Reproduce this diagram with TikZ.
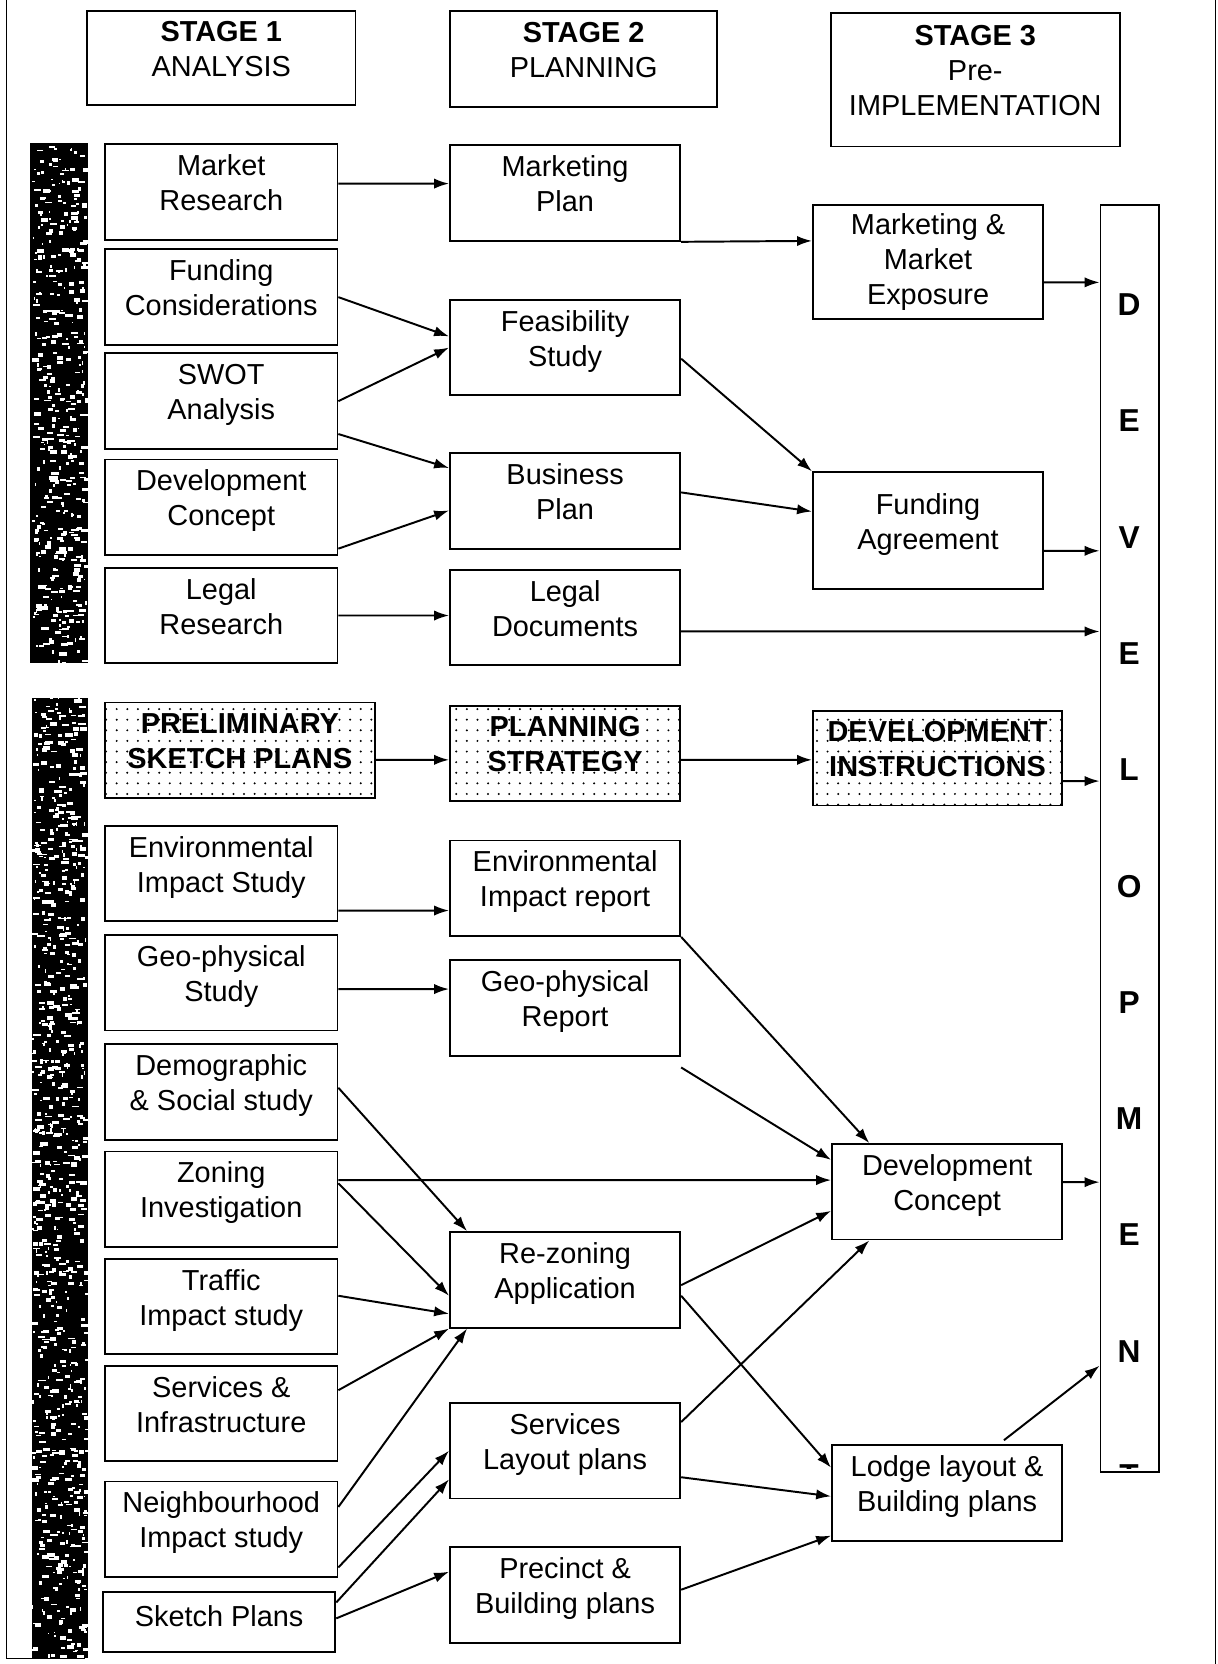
\documentclass[tikz,border=0pt]{standalone}
\usepackage{fontspec}
\setmainfont{Liberation Sans}
\usetikzlibrary{patterns.meta, arrows.meta}

\tikzset{
  box/.style={draw, line width=1pt, align=center, inner sep=2pt, minimum height=1.8cm, text depth=10pt},
  colA/.style={box, minimum width=4.38cm},
  colB/.style={box, minimum width=4.34cm},
  dotbox/.style={box, pattern={Dots[distance=0.2cm, radius=0.6pt]},
    font=\fontsize{15.5}{18.8}\selectfont\bfseries},
  devletter/.style={font=\fontsize{17}{20}\selectfont\bfseries, inner sep=0pt},
  arr/.style={-{Latex[length=8pt, width=5.5pt]}, line width=1.05pt},
}

\begin{document}
\begin{tikzpicture}[x=0.02cm, y=-0.02cm, font=\fontsize{15.5}{18.8}\selectfont]
				\useasboundingbox (0,0) rectangle (1147,1568);
				% Cadre
				\draw[line width=0.8pt] (6,0) -- (6,1563) -- (80,1563);
				\draw[line width=0.6pt] (1145,0) -- (1145,1568);

				% Bandes sombres
				\fill (28,135) rectangle (83,625);
				\fill (30,658) rectangle (83,1562);
				\pgfmathsetseed{11}
				\foreach \k in {1,...,1300}{
					\pgfmathsetmacro\sx{30+50*rnd}
					\pgfmathsetmacro\sy{137+1423*rnd}
					\fill[white] (\sx,\sy) rectangle ++({1+6*rnd},{1+3*rnd});
				}

				% Etapes
				\node[box, minimum width=5.06cm, minimum height=1.78cm] (s1) at (208.5,54.5) {\textbf{STAGE 1}\\ANALYSIS};
				\node[box, minimum width=5.04cm, minimum height=1.82cm] (s2) at (550,55.5) {\textbf{STAGE 2}\\PLANNING};
				\node[box, minimum width=5.44cm, minimum height=2.52cm] (s3) at (919,75) {\textbf{STAGE 3}\\Pre-\\IMPLEMENTATION};

				% Stage 1
				\node[colA] (mr) at (208.5,181) {Market\\Research};
				\node[colA] (fc) at (208.5,280) {Funding\\Considerations};
				\node[colA] (swot) at (208.5,378) {SWOT\\Analysis};
				\node[colA] (dc) at (208.5,478) {Development\\Concept};
				\node[colA] (lr) at (208.5,580) {Legal\\Research};
				\node[dotbox, minimum width=5.08cm] (psp) at (226,707) {PRELIMINARY\\SKETCH PLANS};
				\node[colA] (eis) at (208.5,823) {Environmental\\Impact Study};
				\node[colA] (gs) at (208.5,926) {Geo-physical\\Study};
				\node[colA] (ds) at (208.5,1029) {Demographic\\\& Social study};
				\node[colA] (zi) at (208.5,1130) {Zoning\\Investigation};
				\node[colA] (ti) at (208.5,1231) {Traffic\\Impact study};
				\node[colA] (si) at (208.5,1332) {Services \&\\Infrastructure};
				\node[colA] (ni) at (208.5,1441) {Neighbourhood\\Impact study};
				\node[colA, minimum height=1.14cm, text depth=7pt] (sp) at (206.5,1528.5) {Sketch Plans};

				% Stage 2
				\node[colB] (mp) at (532.5,182) {Marketing\\Plan};
				\node[colB] (fs) at (532.5,327.5) {Feasibility\\Study};
				\node[colB] (bp) at (532.5,472) {Business\\Plan};
				\node[colB] (ld) at (532.5,582) {Legal\\Documents};
				\node[dotbox, minimum width=4.34cm] (ps) at (532.5,710) {PLANNING\\STRATEGY};
				\node[colB] (eir) at (532.5,837) {Environmental\\Impact report};
				\node[colB] (gr) at (532.5,950) {Geo-physical\\Report};
				\node[colB] (rz) at (532.5,1206) {Re-zoning\\Application};
				\node[colB] (sl) at (532.5,1367) {Services\\Layout plans};
				\node[colB] (pb) at (532.5,1503) {Precinct \&\\Building plans};

				% Stage 3
				\node[colB, minimum height=2.16cm, text depth=] (mme) at (874.5,247) {Marketing \&\\Market\\Exposure};
				\node[colB, minimum height=2.2cm] (fa) at (874.5,500) {Funding\\Agreement};
				\node[dotbox, minimum width=4.7cm, minimum height=1.78cm] (di) at (883.5,714.5) {DEVELOPMENT\\INSTRUCTIONS};
				\node[colB] (dcon) at (892.5,1123) {Development\\Concept};
				\node[colB] (lodge) at (892.5,1407) {Lodge layout \&\\Building plans};

				% Development
				\node[draw, line width=1pt, minimum width=1.1cm, minimum height=23.88cm] (dev) at (1064.5,790) {};
				\foreach \l [count=\i] in {D,E,V,E,L,O,P,M,E,N}
				\node[devletter] (dl\i) at (1064,{287+(\i-1)*109.6}) {\l};
				\begin{scope}
					\clip (dev.north west) rectangle ([yshift=0.08cm]dev.south east);
					\node[devletter] (dl11) at (1064,1390) {T};
				\end{scope}

				% Fleches
				\draw[arr] ([yshift=0.16cm]mr.east) -- ([yshift=0.18cm]mp.west);
				\draw[arr] (mp.south east) -- ([yshift=0.4cm]mme.west);
				\draw[arr] ([yshift=-0.38cm]mme.east) -- ([yshift=10.48cm]dev.west);
				\draw[arr] (fc.east) -- ([yshift=0.21cm]fs.west);
				\draw[arr] (swot.east) -- (fs.west);
				\draw[arr] ([yshift=-0.62cm]swot.east) -- ([yshift=0.62cm]bp.west);
				\draw[arr] ([yshift=-0.78cm]dc.east) -- ([yshift=-0.18cm]bp.west);
				\draw[arr] ([yshift=-0.21cm]fs.east) -- (fa.north west);
				\draw[arr] ([yshift=0.16cm]bp.east) -- ([yshift=0.36cm]fa.west);
				\draw[arr] ([yshift=-0.38cm]fa.east) -- ([yshift=5.42cm]dev.west);
				\draw[arr] (lr.east) -- ([yshift=0.04cm]ld.west);
				\draw[arr] ([yshift=-0.26cm]ld.east) -- ([yshift=3.9cm]dev.west);
				\draw[arr] ([yshift=-0.18cm]psp.east) -- ([yshift=-0.12cm]ps.west);
				\draw[arr] ([yshift=-0.12cm]ps.east) -- ([yshift=-0.03cm]di.west);
				\draw[arr] ([yshift=-0.43cm]di.east) -- ([yshift=1.08cm]dev.west);
				\draw[arr] ([yshift=-0.7cm]eis.east) -- ([yshift=-0.42cm]eir.west);
				\draw[arr] (eir.south east) -- ([xshift=0.72cm]dcon.north west);
				\draw[arr] ([yshift=-0.12cm]gs.east) -- ([yshift=0.36cm]gr.west);
				\draw[arr] ([yshift=-0.2cm]gr.south east) -- ([yshift=0.6cm]dcon.west);
				\draw[arr] ([yshift=0.08cm]ds.east) -- ([xshift=0.34cm]rz.north west);
				\draw[arr] ([yshift=0.36cm]zi.east) -- ([yshift=0.22cm]dcon.west);
				\draw[arr] ([yshift=0.3cm]zi.east) -- ([yshift=-0.3cm]rz.west);
				\draw[arr] ([yshift=0.2cm]ti.east) -- ([yshift=-0.64cm]rz.west);
				\draw[arr] ([yshift=0.44cm]si.east) -- (rz.south west);
				\draw[arr] ([yshift=0.42cm]ni.east) -- ([xshift=0.34cm]rz.south west);
				\draw[arr] ([yshift=-0.72cm]ni.east) -- (sl.west);
				\draw[arr] ([yshift=0.37cm]sp.east) -- ([yshift=-0.54cm]sl.west);
				\draw[arr] ([yshift=0.07cm]sp.east) -- ([yshift=0.44cm]pb.west);
				\draw[arr] ([yshift=-0.1cm]rz.east) -- ([yshift=-0.36cm]dcon.west);
				\draw[arr] ([yshift=-0.3cm]rz.east) -- ([yshift=0.48cm]lodge.west);
				\draw[arr] ([yshift=0.54cm]sl.east) -- ([xshift=0.72cm]dcon.south west);
				\draw[arr] ([yshift=-0.5cm]sl.east) -- ([yshift=-0.06cm]lodge.west);
				\draw[arr] ([yshift=0.1cm]pb.east) -- ([yshift=-0.8cm]lodge.west);
				\draw[arr] ([xshift=1.07cm, yshift=0.08cm]lodge.north) -- ([yshift=-9.94cm]dev.west);
				\draw[arr] ([yshift=0.18cm]dcon.east) -- ([yshift=-6.48cm]dev.west);
			\end{tikzpicture}
\end{document}
